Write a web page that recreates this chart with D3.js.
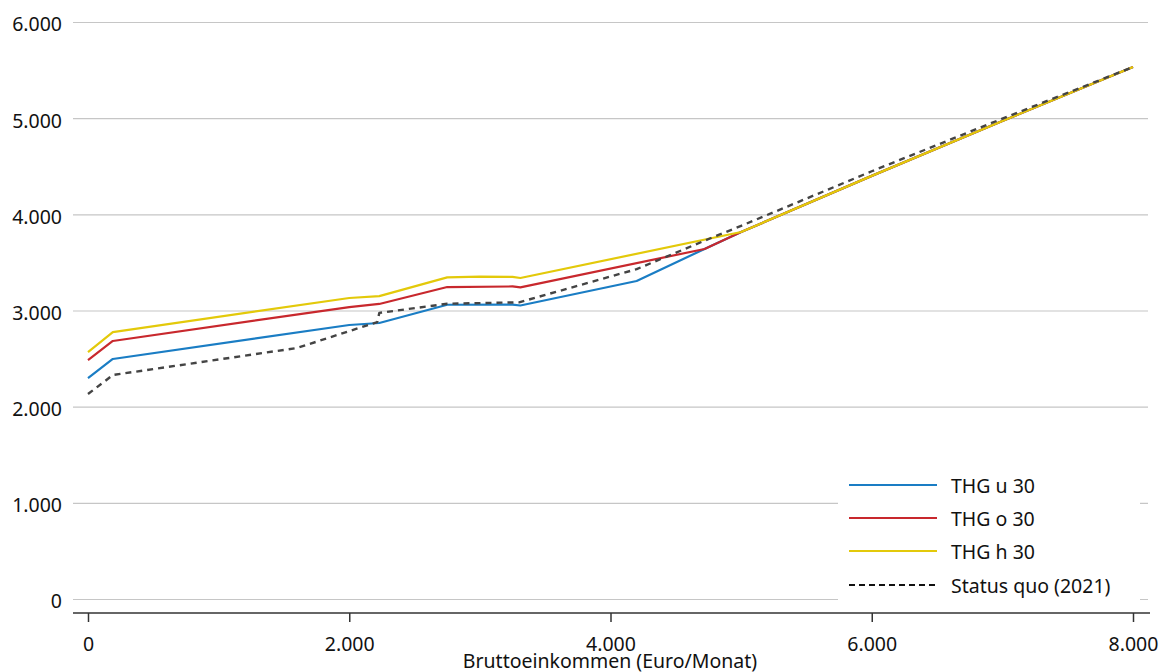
<!DOCTYPE html>
<html>
<head>
<meta charset="utf-8">
<script src="https://cdn.jsdelivr.net/npm/d3@7"></script>
<style>
  html, body { margin: 0; padding: 0; background: #fff; }
  svg { display: block; font-family: "Noto Sans", sans-serif; }
</style>
</head>
<body>
<svg id="chart" width="1162" height="672"></svg>
<script>
// ---- Data ----
const xTicks = [0, 2000, 4000, 6000, 8000];
const yTicks = [0, 1000, 2000, 3000, 4000, 5000, 6000];

const thgU30 = [
  [0, 2298], [190, 2496], [2000, 2849], [2230, 2870], [2750, 3060],
  [3250, 3062], [3310, 3052], [4200, 3307], [4720, 3640], [5000, 3816],
  [6000, 4400], [7000, 4970], [8000, 5532]
];
const thgO30 = [
  [0, 2485], [190, 2683], [2000, 3036], [2230, 3068], [2750, 3244],
  [3250, 3250], [3310, 3240], [4720, 3640], [5000, 3816],
  [6000, 4400], [7000, 4970], [8000, 5532]
];
const thgH30 = [
  [0, 2568], [190, 2776], [2000, 3130], [2230, 3150], [2750, 3345],
  [3000, 3352], [3250, 3350], [3310, 3338], [5000, 3816],
  [6000, 4400], [7000, 4970], [8000, 5532]
];
const statusQuo = [
  [0, 2131], [190, 2329], [1600, 2610], [2215, 2880], [2230, 2975],
  [2750, 3070], [3300, 3085], [4200, 3430], [4780, 3760], [5000, 3880],
  [6000, 4448], [7000, 4995], [8000, 5532]
];

const seriesNames = ["THG u 30", "THG o 30", "THG h 30", "Status quo (2021)"];
const seriesData = [thgU30, thgO30, thgH30, statusQuo];
const seriesColors = ["#1a7dc4", "#c8282d", "#e3c90a", "#444444"];
const xTitle = "Bruttoeinkommen (Euro/Monat)";

// ---- Layout ----
const svg = d3.select("#chart");
const fontSize = 19.5;
const gridLeft = 73, gridRight = 1148;

const x = d3.scaleLinear().domain([0, 8000]).range([88, 1133]);
const y = d3.scaleLinear().domain([0, 6000]).range([599, 22]);

const de = d3.formatLocale({decimal: ",", thousands: ".", grouping: [3], currency: ["", " €"]});
const fmt = de.format(",.0f");

// Y grid + labels
const yAxis = d3.axisLeft(y)
  .tickValues(yTicks)
  .tickFormat(fmt)
  .tickSizeInner(-(gridRight - gridLeft))
  .tickSizeOuter(0)
  .tickPadding(11);

const gy = svg.append("g").attr("transform", `translate(${gridLeft},0)`).call(yAxis);
gy.select(".domain").remove();
gy.selectAll(".tick line").attr("stroke", "#c6c6c6").attr("stroke-width", 1.2);
gy.selectAll(".tick text")
  .attr("fill", "#111")
  .attr("font-size", fontSize)
  .attr("font-family", "Noto Sans")
  .attr("dy", "0.46em");

// X axis
const axisY = 613;
svg.append("line")
  .attr("x1", gridLeft).attr("x2", 1150)
  .attr("y1", axisY).attr("y2", axisY)
  .attr("stroke", "#333").attr("stroke-width", 1.6);

const xAxis = d3.axisBottom(x)
  .tickValues(xTicks)
  .tickFormat(fmt)
  .tickSizeInner(9)
  .tickSizeOuter(0)
  .tickPadding(15);
const gx = svg.append("g").attr("transform", `translate(0,${axisY})`).call(xAxis);
gx.select(".domain").remove();
gx.selectAll(".tick line").attr("stroke", "#333").attr("stroke-width", 1.5);
gx.selectAll(".tick text")
  .attr("fill", "#111")
  .attr("font-size", fontSize)
  .attr("font-family", "Noto Sans");

svg.append("text")
  .attr("x", 610).attr("y", 668)
  .attr("text-anchor", "middle")
  .attr("font-size", fontSize)
  .attr("fill", "#111")
  .text(xTitle);

// Lines
const line = d3.line().x(d => x(d[0])).y(d => y(d[1]));
seriesData.forEach((data, i) => {
  const p = svg.append("path")
    .datum(data)
    .attr("d", line)
    .attr("fill", "none")
    .attr("stroke", seriesColors[i])
    .attr("stroke-width", i === 3 ? 2.4 : 2.2)
    .attr("stroke-linejoin", "round");
  if (i === 3) p.attr("stroke-dasharray", "6,5");
});

// Legend
const legend = svg.append("g");
legend.append("rect")
  .attr("x", 838).attr("y", 465)
  .attr("width", 302).attr("height", 143)
  .attr("fill", "#fff");
const rowYs = [485, 518, 551, 585];
seriesNames.forEach((name, i) => {
  const ly = rowYs[i];
  const l = legend.append("line")
    .attr("x1", 849).attr("x2", 937)
    .attr("y1", ly).attr("y2", ly)
    .attr("stroke", i === 3 ? "#111" : seriesColors[i])
    .attr("stroke-width", 2);
  if (i === 3) l.attr("stroke-dasharray", "6,4");
  legend.append("text")
    .attr("x", 951).attr("y", ly + 8)
    .attr("font-size", fontSize)
    .attr("fill", "#111")
    .text(name);
});
</script>
</body>
</html>
